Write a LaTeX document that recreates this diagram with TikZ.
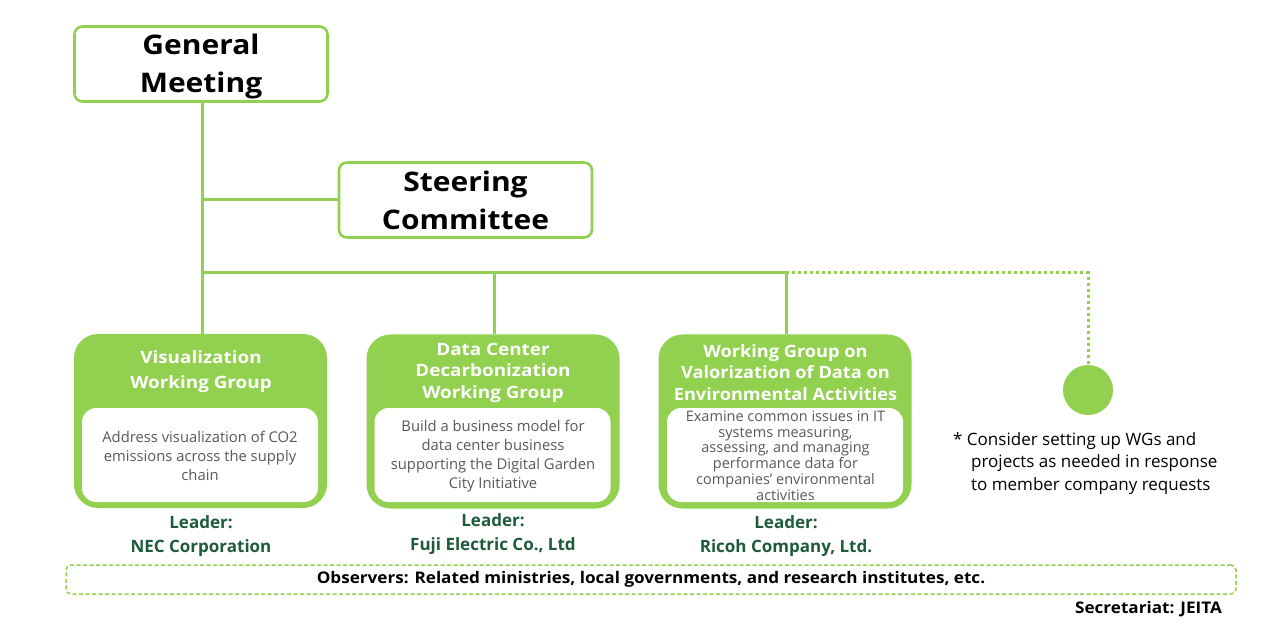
\documentclass[tikz,border=0pt]{standalone}
\usepackage{fontspec}
\setmainfont{Open Sans}
\newfontfamily\widefont[FakeStretch=1.11]{Open Sans}
\newfontfamily\obsfont[FakeStretch=1.07]{Open Sans}
\usetikzlibrary{positioning}
\definecolor{lgreen}{HTML}{92D050}
\definecolor{dgreen}{HTML}{1E5B3A}
\definecolor{txtgray}{HTML}{595959}
\tikzset{
  conn/.style={draw=lgreen, line width=3pt},
  dotconn/.style={draw=lgreen, line width=3pt, dash pattern=on 3pt off 3pt},
  topbox/.style={draw=lgreen, line width=2.6pt, fill=white, rounded corners=8pt,
    minimum width=253pt, minimum height=75pt, inner sep=0pt, align=center,
    font=\widefont\fontsize{27}{38}\selectfont\bfseries},
  toptext/.style={inner sep=0pt, align=center, font=\widefont\fontsize{27}{38}\selectfont\bfseries},
  wgbox/.style={fill=lgreen, rounded corners=24pt, minimum width=253pt, minimum height=174pt, inner sep=0pt},
  wginner/.style={fill=white, rounded corners=14pt, minimum width=236pt, minimum height=94pt, inner sep=0pt},
  wgtitle/.style={text=white, align=center, inner sep=0pt, font=\widefont\fontsize{17}{21.5}\selectfont\bfseries},
  wgtext/.style={text=txtgray, align=center, inner sep=0pt, font=\fontsize{14.8}{19}\selectfont},
  leader/.style={text=dgreen, align=center, inner sep=0pt, font=\fontsize{17}{24}\selectfont\bfseries},
}
\begin{document}
\begin{tikzpicture}[x=1pt,y=-1pt]
\useasboundingbox (0,0) rectangle (1280,636);
% top boxes
\node[topbox] (gm) at (201,64) {};
\node[toptext] (gmtext) at (201,66) {General\\Meeting};
\node[topbox] (sc) at (465.5,200) {Steering\\Committee};
% WG boxes
\node[wgbox] (wg1) at (200.5,421) {};
\node[wginner] (in1) at (200,455) {};
\node[wgtitle, font=\widefont\fontsize{17}{25}\selectfont\bfseries] (t1) at (201,371.5) {Visualization\\Working Group};
\node[wgtext] (x1) at (200,456) {Address visualization of CO2\\emissions across the supply\\chain};
\node[leader] (l1) at (201,536) {Leader:\\NEC Corporation};

\node[wgbox] (wg2) at (493,421.5) {};
\node[wginner] (in2) at (492.5,455) {};
\node[wgtitle] (t2) at (493,372.5) {Data Center\\Decarbonization\\Working Group};
\node[wgtext] (x2) at (493,456) {Build a business model for\\data center business\\supporting the Digital Garden\\City Initiative};
\node[leader] (l2) at (493,534.5) {Leader:\\Fuji Electric Co., Ltd};

\node[wgbox] (wg3) at (785,421.5) {};
\node[wginner] (in3) at (785,455) {};
\node[wgtitle, font=\obsfont\fontsize{17}{21.5}\selectfont\bfseries] (t3) at (785.5,372.5) {Working Group on\\Valorization of Data on\\Environmental Activities};
\node[wgtext, font=\fontsize{14.5}{15.8}\selectfont] (x3) at (785.5,455.5) {Examine common issues in IT\\systems measuring,\\assessing, and managing\\performance data for\\companies’ environmental\\activities};
\node[leader] (l3) at (786,536.5) {Leader:\\Ricoh Company, Ltd.};

% circle
\node[circle, fill=lgreen, minimum size=50pt, inner sep=0pt] (circ) at (1088,390) {};
\node[align=left, anchor=north west, inner sep=0pt, font=\fontsize{17}{22.5}\selectfont] (note) at (953,432)
  {* Consider setting up WGs and\\\hspace*{18pt}projects as needed in response\\\hspace*{18pt}to member company requests};

% connectors
\coordinate (b1) at (202,273);
\coordinate (b2) at (494,273);
\coordinate (b3) at (786,273);
\coordinate (b4) at (1088,273);
\draw[conn] (gm.south -| b1) -- (b1 |- wg1.north);
\draw[conn] (b1 |- sc.west) -- (sc.west);
\draw[conn] (b1) -- (b3);
\draw[conn] (b2) -- (b2 |- wg2.north);
\draw[conn] (b3) -- (b3 |- wg3.north);
\draw[dotconn] (b3) -- (b4) -- (circ.north);

% observers
\node[draw=lgreen, line width=1.5pt, dashed, dash pattern=on 4pt off 2.5pt, rounded corners=5pt,
  minimum width=1170pt, minimum height=29pt, inner sep=0pt,
  font=\obsfont\fontsize{16}{18}\selectfont\bfseries] (obs) at (651,579.5)
  {Observers: Related ministries, local governments, and research institutes, etc.};
\node[anchor=east, inner sep=0pt, font=\obsfont\fontsize{16}{18}\selectfont\bfseries] (sec) at (1222,609) {Secretariat: JEITA};
\end{tikzpicture}
\end{document}
